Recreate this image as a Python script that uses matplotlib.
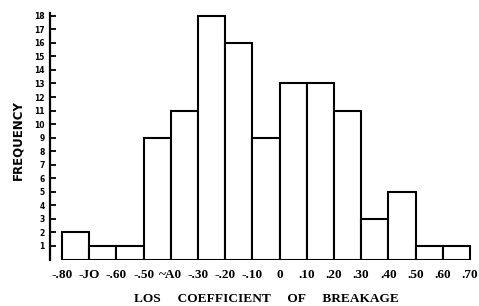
import matplotlib
matplotlib.use("Agg")
import matplotlib.pyplot as plt
import numpy as np

# Data
bin_edges = [-0.80, -0.70, -0.60, -0.50, -0.40, -0.30, -0.20, -0.10, 0.0,
             0.10, 0.20, 0.30, 0.40, 0.50, 0.60, 0.70]
counts = [2, 1, 1, 9, 11, 18, 16, 9, 13, 13, 11, 3, 5, 1, 1]
x_tick_labels = ["-.80", "-JO", "-.60", "-.50", "~A0", "-.30", "-.20", "-.10", "0",
                 ".10", ".20", ".30", ".40", ".50", ".60", ".70"]
y_ticks = list(range(1, 19))
x_title = "LOS     COEFFICIENT     OF     BREAKAGE"
y_title = "FREQUENCY"

fig = plt.figure(figsize=(4.79, 3.06), dpi=100)
ax = fig.add_axes([50/479, 46.5/306, 422.7/479, 247.8/306])

lefts = np.array(bin_edges[:-1])
widths = np.diff(bin_edges)
ax.bar(lefts, counts, width=widths, align='edge', color='white',
       edgecolor='black', linewidth=1.5)

ax.set_xlim(-0.844, 0.71)
ax.set_ylim(0, 18.3)

for s in ['top', 'right', 'bottom']:
    ax.spines[s].set_visible(False)
ax.spines['left'].set_linewidth(1.6)
ax.spines['left'].set_bounds(0, 18.2)

ax.set_yticks(y_ticks)
ax.set_yticklabels([str(v) for v in y_ticks], fontsize=5.5, fontweight='bold',
                   family='DejaVu Sans')
ax.tick_params(axis='y', direction='in', length=4, width=1.3, pad=4)

ax.set_xticks(bin_edges)
ax.set_xticklabels(x_tick_labels, fontsize=9.5, fontweight='bold',
                   family='Liberation Serif')
ax.tick_params(axis='x', length=0, pad=7)

fig.text(266/479, (306-299.5)/306, x_title, ha='center', va='center',
         fontsize=9.6, fontweight='bold', family='Liberation Serif')
fig.text(17.5/479, (306-140)/306, y_title, ha='center', va='center',
         rotation=90, fontsize=8.5, fontweight='bold', family='DejaVu Sans')

fig.savefig("out.png", dpi=100)
